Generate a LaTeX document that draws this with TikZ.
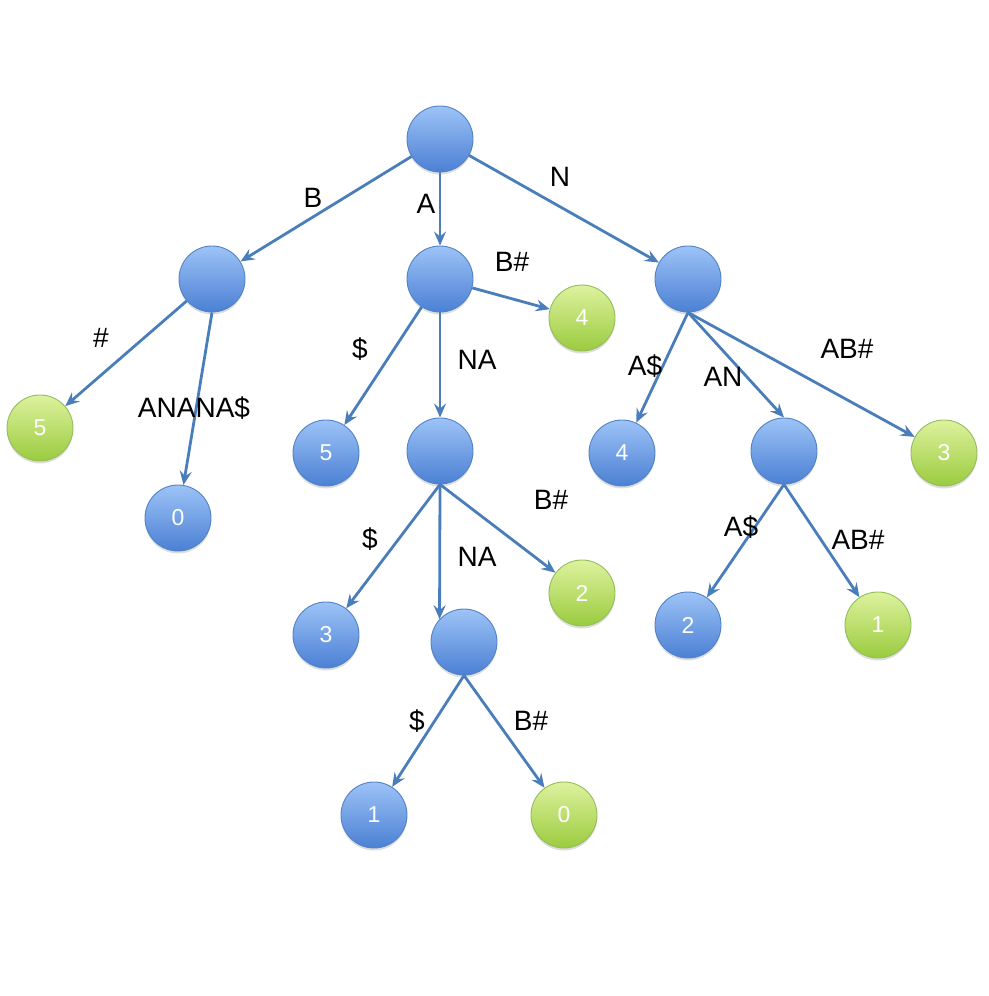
\documentclass[tikz,border=0pt]{standalone}
\usepackage{fontspec}
\setmainfont{Liberation Sans}
\usetikzlibrary{arrows.meta,shadows}
\definecolor{bluetop}{HTML}{9DC3F7}
\definecolor{bluebot}{HTML}{4B80D4}
\definecolor{blueedge}{HTML}{5283C4}
\definecolor{greentop}{HTML}{DDF29E}
\definecolor{greenbot}{HTML}{9BCB3F}
\definecolor{greenedge}{HTML}{93BE5A}
\definecolor{linkblue}{HTML}{4A7EBB}
\tikzset{
  vert/.style={circle, minimum size=66pt, inner sep=0pt, line width=0.9pt,
    text=white, font=\fontsize{23}{26}\selectfont,
    drop shadow={shadow xshift=0pt, shadow yshift=-2.5pt, opacity=0.22, fill=black!60}},
  inner/.style={vert, draw=blueedge, top color=bluetop, bottom color=bluebot},
  leafg/.style={vert, draw=greenedge, top color=greentop, bottom color=greenbot},
  link/.style={draw=linkblue, line width=2.8pt, -{Stealth[length=14pt,width=12pt,inset=5pt]}},
  lab/.style={font=\fontsize{28}{32}\selectfont, text=black, inner sep=0pt}
}
\begin{document}
\begin{tikzpicture}[x=1pt,y=-1pt]
\useasboundingbox (0,0) rectangle (988,996);
% tree vertices
\node[inner] (root) at (440,139) {};
\node[inner] (b)    at (212,279) {};
\node[inner] (a)    at (440,279) {};
\node[inner] (n)    at (688,279) {};
\node[leafg] (a4)   at (582,318) {4};
\node[leafg] (b5)   at (40,428)  {5};
\node[inner] (b0)   at (178,518) {0};
\node[inner] (a5)   at (326,453) {5};
\node[inner] (ana)  at (440,451) {};
\node[leafg] (ana2) at (582,593) {2};
\node[inner] (ana3) at (326,635) {3};
\node[inner] (anana) at (464,642) {};
\node[inner] (anana1) at (374,815) {1};
\node[leafg] (anana0) at (564,815) {0};
\node[inner] (n4)   at (622,453) {4};
\node[inner] (nan)  at (784,451) {};
\node[leafg] (n3)   at (944,453) {3};
\node[inner] (nan2) at (688,625) {2};
\node[leafg] (nan1) at (878,625) {1};
% edges
\draw[link] (root) -- (b);
\draw[link] (root) -- (a);
\draw[link] (root) -- (n);
\draw[link] (b) -- (b5);
\draw[link] (b.south) -- (b0);
\draw[link] (a) -- (a4);
\draw[link] (a) -- (a5);
\draw[link] (a) -- (ana);
\draw[link] (ana.south) -- (ana3);
\draw[link] (ana.south) -- (anana.137);
\draw[link] (ana.south) -- (ana2);
\draw[link] (anana.south) -- (anana1);
\draw[link] (anana.south) -- (anana0);
\draw[link] (n.south) -- (n4);
\draw[link] (n.south) -- (nan.north);
\draw[link] (n.south) -- (n3);
\draw[link] (nan.south) -- (nan2);
\draw[link] (nan.south) -- (nan1);
% edge labels
\node[lab] (lB)   at (313,198) {B};
\node[lab] (lA)   at (426,204) {A};
\node[lab] (lN)   at (560,177) {N};
\node[lab] (lB1)  at (512,262) {B\#};
\node[lab] (lH)   at (101,338) {\#};
\node[lab] (lAN)  at (194,408) {ANANA\$};
\node[lab] (lD1)  at (360,349) {\$};
\node[lab] (lNA1) at (477,360) {NA};
\node[lab] (lA1)  at (645,366) {A\$};
\node[lab] (lAN1) at (723,377) {AN};
\node[lab] (lAB1) at (847,349) {AB\#};
\node[lab] (lD2)  at (370,539) {\$};
\node[lab] (lNA2) at (477,557) {NA};
\node[lab] (lB2)  at (551,500) {B\#};
\node[lab] (lA2)  at (741,527) {A\$};
\node[lab] (lAB2) at (858,540) {AB\#};
\node[lab] (lD3)  at (417,721) {\$};
\node[lab] (lB3)  at (531,721) {B\#};
\end{tikzpicture}
\end{document}
